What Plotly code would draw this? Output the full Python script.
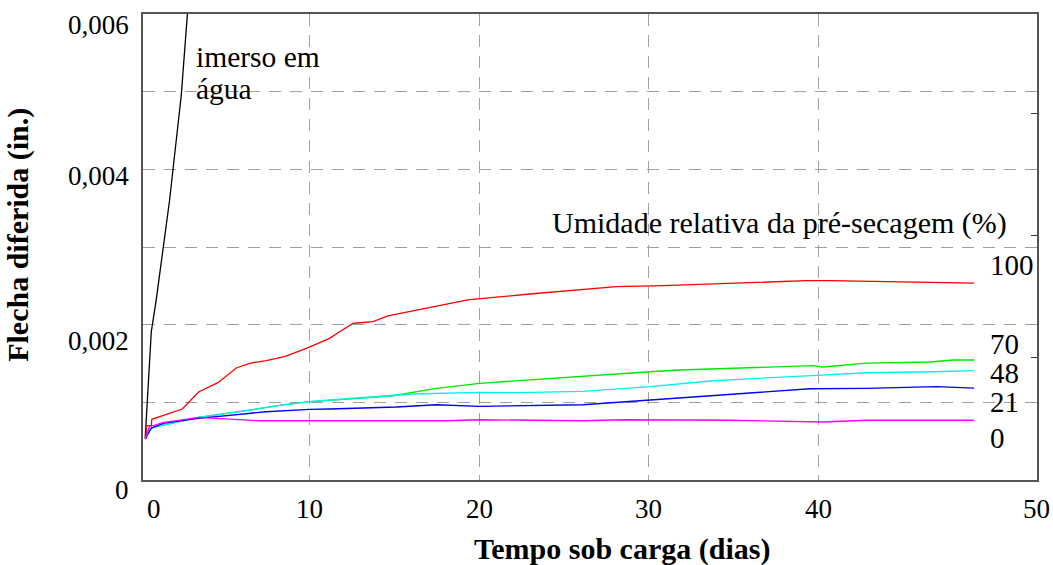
import plotly.graph_objects as go

# Time under load (days) and deferred deflection (in.) per pre-drying relative humidity
t_agua = [0.30, 0.50, 0.66, 0.95, 1.74, 2.43, 2.80]
f_agua = [0.000541, 0.001288, 0.001909, 0.002318, 0.003605, 0.004957, 0.006030]

t_100 = [0.30, 0.36, 0.36, 0.66, 0.69, 2.49, 3.45, 4.59, 5.67, 6.46, 7.44, 8.52, 9.81,
         10.69, 11.18, 11.77, 12.56, 12.95, 13.74, 14.62, 16.89, 19.34, 22.99, 26.13,
         28.10, 30.86, 34.79, 39.32, 40.70, 49.20]
f_100 = [0.000537, 0.000537, 0.000699, 0.000699, 0.000782, 0.000914, 0.001133, 0.001253,
         0.001442, 0.001503, 0.001536, 0.001588, 0.001696, 0.001781, 0.001824, 0.001909,
         0.002017, 0.002025, 0.002038, 0.002112, 0.002211, 0.002318, 0.002395, 0.002455,
         0.002489, 0.002502, 0.002533, 0.002566, 0.002566, 0.002536]

t_70 = [0.30, 0.66, 0.95, 3.45, 6.46, 8.42, 10.0, 11.18, 14.92, 17.48, 20.04, 24.95,
        30.07, 31.84, 39.12, 39.71, 40.30, 42.86, 46.60, 47.98, 49.20]
f_70 = [0.000537, 0.000666, 0.000686, 0.000807, 0.000901, 0.000966, 0.001008, 0.001024,
        0.001085, 0.001181, 0.001245, 0.001322, 0.001394, 0.001416, 0.001468, 0.001472,
        0.001455, 0.001506, 0.001519, 0.001545, 0.001545]

t_48 = [0.30, 0.66, 0.95, 3.45, 6.46, 8.42, 10.0, 11.18, 16.10, 20.04, 22.20, 26.13,
        30.07, 33.81, 39.91, 42.86, 46.79, 49.20]
f_48 = [0.000537, 0.000666, 0.000686, 0.000807, 0.000901, 0.000966, 0.001008, 0.001030,
        0.001107, 0.001129, 0.001124, 0.001142, 0.001201, 0.001278, 0.001348, 0.001381,
        0.001394, 0.001407]

t_21 = [0.30, 0.50, 0.66, 1.44, 3.45, 7.44, 10.0, 11.18, 15.12, 17.48, 20.04, 26.13,
        30.07, 33.81, 39.52, 42.86, 46.99, 49.20]
f_21 = [0.000528, 0.000618, 0.000669, 0.000734, 0.000794, 0.000879, 0.000910, 0.000914,
        0.000940, 0.000969, 0.000949, 0.000969, 0.001030, 0.001081, 0.001175, 0.001181,
        0.001201, 0.001184]

t_0 = [0.30, 0.55, 1.34, 2.52, 3.45, 7.05, 11.18, 18.07, 20.04, 22.99, 26.13, 28.49,
       34.79, 40.30, 42.86, 49.20]
f_0 = [0.000528, 0.000686, 0.000738, 0.000782, 0.000807, 0.000763, 0.000763, 0.000763,
       0.000776, 0.000773, 0.000763, 0.000776, 0.000769, 0.000747, 0.000769, 0.000769]

series = [
    ("imerso em água", t_agua, f_agua, "#000000"),
    ("100", t_100, f_100, "#ff0000"),
    ("70", t_70, f_70, "#00e600"),
    ("48", t_48, f_48, "#00f0f0"),
    ("21", t_21, f_21, "#0000ff"),
    ("0", t_0, f_0, "#ff00ff"),
]

# Curve labels (pre-drying RH %) placed to the right of the curve ends
rh_labels = ["100", "70", "48", "21", "0"]
rh_label_y = [0.002762, 0.001757, 0.001384, 0.000998, 0.000547]

x_tick_pos = [0.8, 10, 20, 30, 40, 52.9]
x_tick_text = ["0", "10", "20", "30", "40", "50"]
x_grid = [10, 20, 30, 40]

y_tick_vals = [0.0, 0.002, 0.004, 0.006]
y_tick_text = ["0", "0,002", "0,004", "0,006"]
y_tick_shift = [-10, -16, -7, -11]

mm_ticks = [0.04, 0.08, 0.12]
IN_TO_MM = 25.4

SERIF = "Liberation Serif"
GRID = "#a0a0a0"
FRAME = "#555555"
X_RANGE = [0.17, 52.92]
Y_RANGE = [0, 0.006]


def txt(size):
    return dict(family=SERIF, size=size, color="#000")


fig = go.Figure()
for name, t, f, color in series:
    fig.add_trace(go.Scatter(x=t, y=f, mode="lines", name=name,
                             line=dict(color=color, width=1.3), showlegend=False))

# empty trace so the gridline axis (x2) and the mm axis (y2) get drawn
fig.add_trace(go.Scatter(x=[None], y=[None], xaxis="x2", yaxis="y2", mode="lines",
                         showlegend=False, hoverinfo="skip"))

annotations = []
for val, label, dy in zip(y_tick_vals, y_tick_text, y_tick_shift):
    annotations.append(dict(xref="paper", yref="y", x=0, y=val, text=label,
                            xanchor="right", yanchor="middle", xshift=-12, yshift=dy,
                            showarrow=False, font=txt(27)))
for pos, label in zip(x_tick_pos, x_tick_text):
    annotations.append(dict(xref="x", yref="y", x=pos, y=0, text=label,
                            xanchor="center", yanchor="middle", yshift=-29,
                            showarrow=False, font=txt(27)))
for label, yv in zip(rh_labels, rh_label_y):
    annotations.append(dict(xref="x", yref="y", x=50, y=yv, text=label, xanchor="left",
                            yanchor="middle", showarrow=False, font=txt(29)))
annotations += [
    dict(xref="x", yref="y", x=3.2, y=0.005443, text="imerso em", xanchor="left",
         yanchor="middle", showarrow=False, font=txt(29.5)),
    dict(xref="x", yref="y", x=3.2, y=0.005030, text="água", xanchor="left",
         yanchor="middle", showarrow=False, font=txt(29.5)),
    dict(xref="x", yref="y", x=24.2, y=0.003315, text="Umidade relativa da pré-secagem (%)",
         xanchor="left", yanchor="middle", showarrow=False, font=txt(30)),
    dict(xref="paper", yref="paper", x=(622 - 143.5) / 893.5, y=-0.148,
         text="<b>Tempo sob carga (dias)</b>", xanchor="center", yanchor="middle",
         showarrow=False, font=txt(30)),
    dict(xref="paper", yref="paper", x=-0.14, y=(480 - 235) / 466,
         text="<b>Flecha diferida (in.)</b>", textangle=-90, xanchor="center",
         yanchor="middle", showarrow=False, font=txt(30)),
]

fig.update_layout(
    width=1053, height=565,
    margin=dict(l=143, r=16, t=14, b=85),
    paper_bgcolor="white", plot_bgcolor="white",
    font=txt(27),
    xaxis=dict(range=X_RANGE, showticklabels=False, showgrid=False, zeroline=False,
               ticks="", showline=True, mirror=True, linecolor=FRAME, linewidth=1.5),
    xaxis2=dict(range=X_RANGE, overlaying="x", anchor="y2", side="bottom",
                tickmode="array", tickvals=x_grid, showticklabels=False,
                showgrid=True, gridcolor=GRID, gridwidth=1, griddash="12px,9px",
                ticks="inside", ticklen=5, tickcolor=GRID, zeroline=False, showline=False),
    yaxis=dict(range=Y_RANGE, tickmode="linear", tick0=0, dtick=0.001,
               showticklabels=False, showgrid=True, gridcolor=GRID, gridwidth=1,
               griddash="12px,9px", zeroline=False, ticks="",
               showline=True, mirror=True, linecolor=FRAME, linewidth=1.5),
    yaxis2=dict(range=[v * IN_TO_MM for v in Y_RANGE], overlaying="y", anchor="x2",
                side="right", tickmode="array", tickvals=mm_ticks, showticklabels=False,
                ticks="inside", ticklen=6, tickcolor="#333", showgrid=False,
                zeroline=False, showline=False),
    annotations=annotations,
)

fig.write_html("out.html")
